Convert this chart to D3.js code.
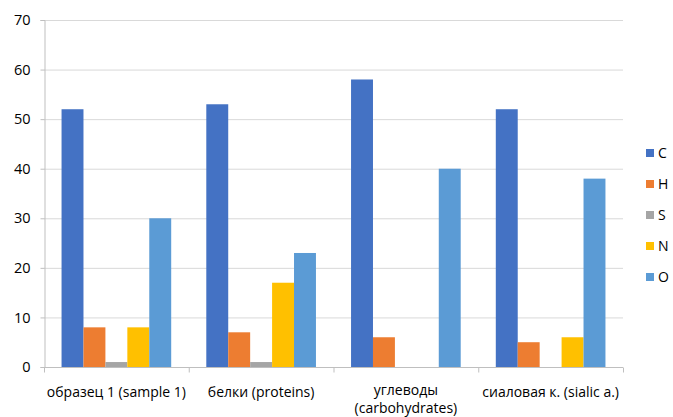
<!DOCTYPE html>
<html><head><meta charset="utf-8">
<script src="https://cdn.jsdelivr.net/npm/d3@7"></script>
<style>body{margin:0;background:#fff}svg{display:block}text{font-family:"Open Sans",Lato,sans-serif}</style>
</head><body>
<svg id="c" width="673" height="417"></svg>
<script>
const categories = [["образец 1 (sample 1)"], ["белки (proteins)"], ["углеводы", "(carbohydrates)"], ["сиаловая к. (sialic a.)"]];
const seriesNames = ["C", "H", "S", "N", "O"];
const colors = ["#4472C4", "#ED7D31", "#A5A5A5", "#FFC000", "#5B9BD5"];
const C = [52, 53, 58, 52];
const H = [8, 7, 6, 5];
const S = [1, 1, 0, 0];
const N = [8, 17, 0, 6];
const O = [30, 23, 40, 38];
const yTicks = [0, 10, 20, 30, 40, 50, 60, 70];

const values = [C, H, S, N, O];
const svg = d3.select("#c");
const mLeft = 44, mRight = 623, mTop = 20, mBottom = 367;
const x0 = d3.scaleBand().domain(d3.range(categories.length)).range([mLeft, mRight]).padding(0);
const x1 = d3.scaleBand().domain(seriesNames).range([0, x0.bandwidth()]).paddingInner(0).paddingOuter(0.8);
const y = d3.scaleLinear().domain([0, 70]).range([mBottom, mTop]);

// gridlines
svg.append("g").selectAll("line").data(yTicks.slice(1)).join("line")
  .attr("x1", mLeft).attr("x2", mRight).attr("y1", d => y(d)+0.5).attr("y2", d => y(d)+0.5)
  .attr("stroke", "#d9d9d9").attr("stroke-width", 1);

// y axis
const ya = svg.append("g").attr("transform", `translate(${mLeft+0.5},0)`)
  .call(d3.axisLeft(y).tickValues(yTicks).tickSize(4).tickPadding(10));
ya.select(".domain").attr("stroke", "#bfbfbf");
ya.selectAll(".tick line").attr("stroke", "#bfbfbf");
ya.selectAll(".tick text").attr("font-size", 14.5).attr("fill", "#000").attr("font-family", "'Open Sans',sans-serif");

// bars
const g = svg.append("g");
categories.forEach((cat, i) => {
  seriesNames.forEach((s, j) => {
    const v = values[j][i];
    if (v <= 0) return;
    g.append("rect")
      .attr("x", x0(i) + x1(s)).attr("width", x1.bandwidth())
      .attr("y", y(v)).attr("height", y(0) - y(v))
      .attr("fill", colors[j]);
  });
});

// x axis
const xa = svg.append("g").attr("transform", `translate(0,${mBottom+0.5})`);
xa.append("line").attr("x1", mLeft).attr("x2", mRight).attr("stroke", "#bfbfbf");
xa.selectAll("line.t").data(d3.range(categories.length + 1)).join("line").attr("class", "t")
  .attr("x1", d => mLeft + d * x0.bandwidth() + 0.5).attr("x2", d => mLeft + d * x0.bandwidth() + 0.5)
  .attr("y1", 0).attr("y2", 5).attr("stroke", "#bfbfbf");
categories.forEach((cat, i) => {
  cat.forEach((line, k) => {
    xa.append("text").attr("x", x0(i) + x0.bandwidth() / 2).attr("y", cat.length > 1 ? 27 + k * 18.5 : 29)
      .attr("text-anchor", "middle").attr("font-size", 14).attr("fill", "#000").text(line);
  });
});

// legend
const lg = svg.append("g");
seriesNames.forEach((s, j) => {
  const cy = 153 + j * 31;
  lg.append("rect").attr("x", 646).attr("y", cy - 4).attr("width", 8).attr("height", 8).attr("fill", colors[j]);
  lg.append("text").attr("x", 658).attr("y", cy + 5).attr("font-size", 14).attr("fill", "#000").text(s);
});
</script>
</body></html>
